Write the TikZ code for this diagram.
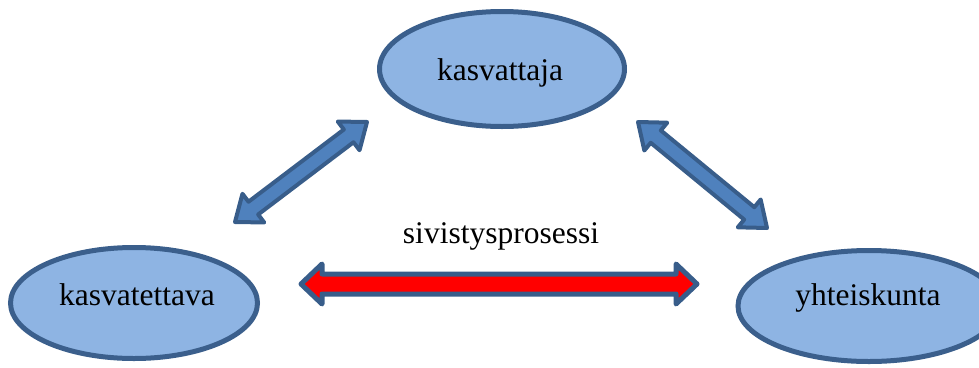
\documentclass[tikz,border=0pt]{standalone}
\usepackage{fontspec}
\setmainfont{Liberation Serif}
\usetikzlibrary{shapes.geometric,calc}
\definecolor{ellfill}{HTML}{8EB4E3}
\definecolor{ellline}{HTML}{3B5F8C}
\definecolor{arrfill}{HTML}{4F81BD}
\definecolor{arrline}{HTML}{385D8A}
\tikzset{
    person/.style = {draw=ellline, fill=ellfill, ellipse, line width=5pt, inner sep=0pt},
    word/.style = {anchor=base, font=\fontsize{31.5}{38}\selectfont},
    bluearrow/.style = {draw=arrline, fill=arrfill, line width=4pt, line join=round},
    redarrow/.style = {draw=arrline, fill=red, line width=5pt, line join=round}
}
% block arrow with two heads: from, to, shaft half width, head half width, head length
\newcommand{\dblarrow}[6]{
    \coordinate (#1-p) at ($(#1)!#5!(#2)$);
    \coordinate (#1-q) at ($(#2)!#5!(#1)$);
    \draw[#6] (#1) -- ($(#1-p)!#4!90:(#2)$) -- ($(#1-p)!#3!90:(#2)$)
        -- ($(#1-q)!#3!-90:(#1)$) -- ($(#1-q)!#4!-90:(#1)$) -- (#2)
        -- ($(#1-q)!#4!90:(#1)$) -- ($(#1-q)!#3!90:(#1)$)
        -- ($(#1-p)!#3!-90:(#2)$) -- ($(#1-p)!#4!-90:(#2)$) -- cycle;
}
\begin{document}
\begin{tikzpicture}[x=1pt,y=-1pt]
        \useasboundingbox (0,0) rectangle (979,367);
        \node [person, minimum width=245pt, minimum height=115pt] (kasvattaja) at (502,69) {};
        \node [person, minimum width=247pt, minimum height=111pt] (kasvatettava) at (134,303) {};
        \node [person, minimum width=262pt, minimum height=111pt] (yhteiskunta) at (869,306) {};
        \node [word] (kasvattaja-t) at (500,80) {kasvattaja};
        \node [word] (kasvatettava-t) at (137,305) {kasvatettava};
        \node [word] (yhteiskunta-t) at (868,305) {yhteiskunta};
        \node [word] (prosessi) at (501,243) {sivistysprosessi};
        % arrow ends
        \coordinate (la) at (235,222);
        \coordinate (lb) at (367,122);
        \coordinate (ra) at (638,122);
        \coordinate (rb) at (767,228);
        \coordinate (ma) at (301,284);
        \coordinate (mb) at (697,284);
        \dblarrow{la}{lb}{8pt}{18pt}{23pt}{bluearrow}
        \dblarrow{ra}{rb}{8pt}{18pt}{23pt}{bluearrow}
        \dblarrow{ma}{mb}{10pt}{20pt}{21pt}{redarrow}
    \end{tikzpicture}
\end{document}
